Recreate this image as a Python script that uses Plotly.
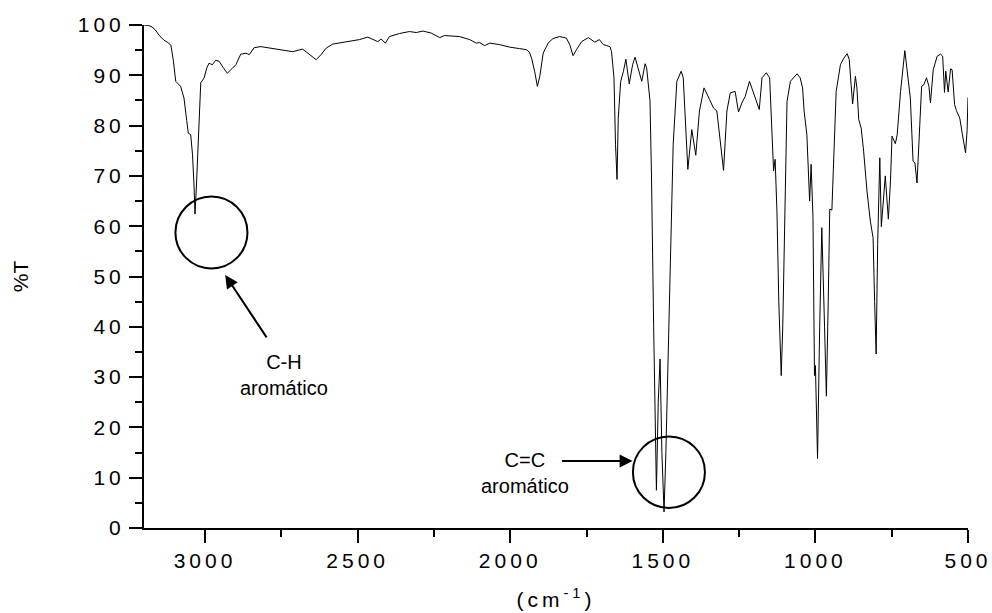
import plotly.graph_objects as go

# Wavenumber (cm^-1) and transmittance (%T)
wavenumber = [
    3200, 3185, 3173, 3160, 3151, 3135, 3124, 3112, 3104, 3096, 3080, 3069, 3060, 3055, 3047,
    3041, 3036, 3033, 3029, 3025, 3019, 3014, 3003, 2994, 2987, 2976, 2965, 2954, 2940, 2927,
    2912, 2899, 2883, 2866, 2855, 2839, 2817, 2779, 2745, 2713, 2680, 2658, 2636, 2620, 2603,
    2582, 2538, 2494, 2467, 2450, 2434, 2423, 2409, 2396, 2363, 2330, 2308, 2286, 2259, 2231,
    2215, 2166, 2133, 2111, 2100, 2084, 2067, 2035, 2002, 1969, 1947, 1937, 1930, 1920, 1911,
    1903, 1892, 1876, 1860, 1838, 1816, 1805, 1794, 1783, 1766, 1744, 1723, 1708, 1695, 1684,
    1673, 1668, 1660, 1655, 1650, 1646, 1638, 1629, 1621, 1610, 1599, 1591, 1580, 1569, 1558,
    1553, 1542, 1537, 1530, 1524, 1521, 1515, 1509, 1503, 1496, 1490, 1484, 1477, 1466, 1454,
    1440, 1433, 1427, 1418, 1405, 1392, 1380, 1365, 1347, 1334, 1323, 1312, 1301, 1290, 1279,
    1263, 1252, 1241, 1230, 1216, 1203, 1184, 1175, 1161, 1150, 1145, 1137, 1132, 1126, 1120,
    1112, 1107, 1104, 1093, 1082, 1066, 1060, 1050, 1042, 1037, 1028, 1019, 1014, 1008, 1003,
    1000, 993, 986, 979, 970, 964, 958, 953, 946, 940, 932, 918, 907, 896, 889,
    883, 878, 869, 864, 858, 850, 842, 831, 820, 814, 811, 806, 801, 796, 789,
    784, 776, 771, 761, 754, 749, 738, 732, 721, 707, 699, 689, 680, 674, 667,
    659, 652, 645, 636, 628, 623, 614, 601, 590, 583, 577, 573, 565, 557, 552,
    544, 538, 527, 519, 512, 508, 503, 500,
]
transmittance = [
    100.0, 99.9, 99.6, 98.8, 98.0, 97.0, 96.6, 96.0, 93.0, 88.8, 87.8, 85.5, 81.0, 78.5, 78.2,
    74.2, 68.0, 62.4, 67.0, 72.9, 82.0, 88.5, 89.5, 91.5, 92.4, 92.1, 93.0, 92.8, 91.5, 90.4,
    91.3, 92.1, 94.2, 94.4, 94.1, 95.5, 95.7, 95.3, 95.0, 94.7, 95.2, 94.1, 93.1, 94.1, 95.4,
    96.2, 96.6, 97.1, 97.6, 97.1, 96.7, 97.2, 96.4, 97.7, 98.3, 98.7, 98.5, 98.8, 98.4, 97.5,
    97.9, 97.7, 97.1, 96.4, 96.5, 95.9, 96.4, 96.1, 95.6, 95.3, 95.1, 94.6, 93.4, 90.8, 87.8,
    89.8, 94.4, 96.4, 97.3, 97.7, 97.4, 96.1, 93.9, 95.1, 96.7, 97.5, 96.6, 97.1, 96.1, 95.9,
    95.7, 94.7, 89.5, 76.3, 69.3, 81.5, 88.8, 90.8, 93.2, 88.3, 92.1, 93.6, 91.1, 88.8, 92.3,
    91.5, 84.9, 69.6, 40.0, 15.0, 7.5, 25.0, 33.6, 15.0, 3.2, 15.0, 32.0, 47.0, 76.3, 88.8,
    90.8, 89.5, 81.5, 71.3, 79.2, 74.1, 82.9, 87.5, 85.2, 83.5, 82.9, 76.9, 71.1, 82.9, 86.5,
    86.8, 82.7, 84.5, 85.8, 88.8, 86.5, 83.2, 89.5, 90.5, 89.5, 82.9, 71.0, 73.3, 63.0, 45.0,
    30.3, 40.0, 49.8, 84.8, 88.8, 89.8, 90.3, 89.5, 87.5, 82.9, 78.2, 65.0, 72.3, 61.7, 30.3,
    32.3, 13.8, 40.0, 59.7, 40.0, 26.2, 45.0, 63.4, 63.2, 72.9, 86.8, 92.1, 93.4, 94.3, 93.1,
    88.1, 84.3, 89.8, 87.5, 81.2, 79.5, 74.9, 67.0, 61.0, 58.5, 57.7, 45.0, 34.6, 56.4, 73.6,
    59.9, 65.7, 70.0, 61.4, 69.0, 77.9, 76.4, 78.2, 86.8, 94.9, 90.8, 85.5, 72.9, 72.6, 68.6,
    79.5, 87.8, 88.1, 89.5, 87.8, 84.5, 91.1, 93.8, 94.2, 93.8, 86.6, 90.8, 86.7, 91.3, 91.1,
    84.2, 83.0, 81.5, 78.5, 75.5, 74.6, 79.0, 85.6,
]

x_ticks = [3000, 2500, 2000, 1500, 1000, 500]
y_ticks = [0, 10, 20, 30, 40, 50, 60, 70, 80, 90, 100]

# Annotation anchors (data units)
ch_circle = dict(x0=3097, x1=2861, y0=51.6, y1=65.9)
cc_circle = dict(x0=1598, x1=1362, y0=4.0, y1=18.2)
ch_arrow = dict(x=2934, y=50.3, ax=2795, ay=37.6)
cc_arrow = dict(x=1599, y=13.3, ax=1835, ay=13.3)
ch_label = dict(x=2740, y=30.5, text="C-H<br>aromático")
cc_label = dict(x=1952, y=11.0, text="C=C<br>aromático")

FONT = "Liberation Sans, Arial, sans-serif"

fig = go.Figure()
fig.add_trace(go.Scatter(
    x=wavenumber, y=transmittance, mode="lines",
    line=dict(color="black", width=1), showlegend=False, hoverinfo="x+y",
))

for c in (ch_circle, cc_circle):
    fig.add_shape(type="circle", xref="x", yref="y", line=dict(color="black", width=2),
                  fillcolor="rgba(0,0,0,0)", **c)

for a in (ch_arrow, cc_arrow):
    fig.add_annotation(xref="x", yref="y", axref="x", ayref="y", text="", showarrow=True,
                       arrowhead=2, arrowsize=1.3, arrowwidth=2, arrowcolor="black",
                       standoff=0, **a)

for lab in (ch_label, cc_label):
    fig.add_annotation(xref="x", yref="y", showarrow=False,
                       font=dict(family=FONT, size=20, color="black"), **lab)

axis_common = dict(
    showline=True, linecolor="black", linewidth=2, showgrid=False, zeroline=False,
    ticks="outside", ticklen=13, tickwidth=2, tickcolor="black",
    tickfont=dict(family=FONT, size=21, color="black"),
    mirror=False, automargin=False,
)

fig.update_xaxes(
    range=[3200, 500], tickvals=x_ticks, ticktext=[str(v) for v in x_ticks],
    minor=dict(ticks="outside", ticklen=7, tickwidth=2, tickcolor="black", dtick=250, tick0=500),
    title=dict(text="(cm<sup>-1</sup>)", font=dict(family=FONT, size=21, color="black"), standoff=21),
    **axis_common,
)
fig.update_yaxes(
    range=[0, 100], tickvals=y_ticks, ticktext=[str(v) for v in y_ticks],
    minor=dict(ticks="outside", ticklen=7, tickwidth=2, tickcolor="black", dtick=5, tick0=0),
    title=dict(text="%T", font=dict(family=FONT, size=21, color="black"), standoff=55),
    **axis_common,
)

fig.update_layout(
    width=992, height=613,
    margin=dict(l=144, r=24, t=25, b=85),
    paper_bgcolor="white", plot_bgcolor="white",
    font=dict(family=FONT, color="black"),
)

post_script = """
document.body.style.margin = '0';
var gd = document.getElementById('{plot_id}');
gd.querySelectorAll('.xtick text, .ytick text, text.xtitle').forEach(function(t){ t.style.letterSpacing = '4px'; });
"""

fig.write_html("out.html", post_script=post_script, config={"displayModeBar": False})
